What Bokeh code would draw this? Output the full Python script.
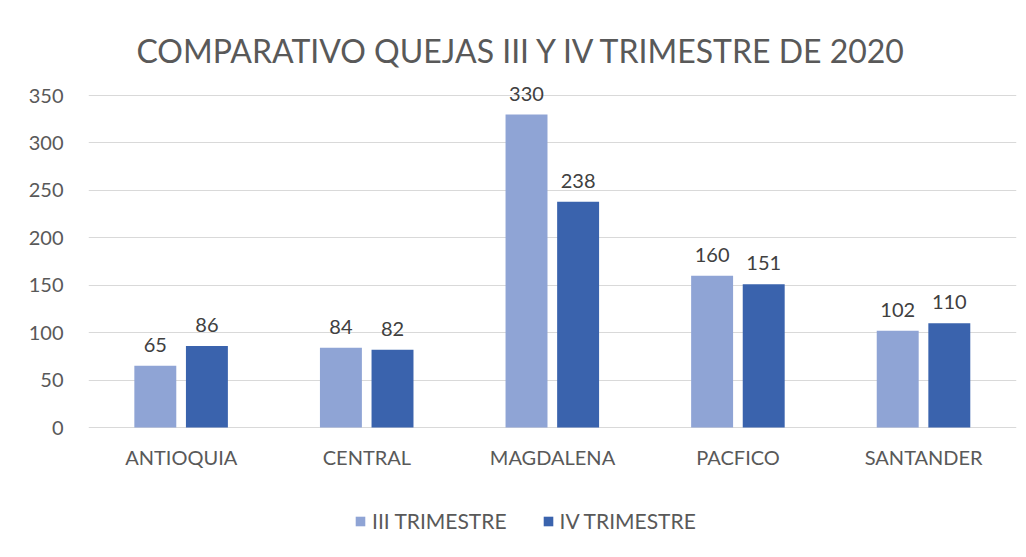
from bokeh.plotting import figure
from bokeh.models import (ColumnDataSource, FactorRange, Range1d, FixedTicker,
                          LabelSet, Label, Legend, LegendItem)
from bokeh.core.properties import value
from bokeh.transform import dodge
from bokeh.embed import file_html
from bokeh.resources import INLINE

categories = ["ANTIOQUIA", "CENTRAL", "MAGDALENA", "PACFICO", "SANTANDER"]
iii_trimestre = [65, 84, 330, 160, 102]
iv_trimestre = [86, 82, 238, 151, 110]
y_ticks = [0, 50, 100, 150, 200, 250, 300, 350]
series_names = ["III TRIMESTRE", "IV TRIMESTRE"]
title_text = "COMPARATIVO QUEJAS III Y IV TRIMESTRE DE 2020"

FONT = "Lato"
C_LIGHT = "#8FA4D5"
C_DARK = "#3A63AD"
TXT = "#595959"

src = ColumnDataSource(dict(
    cat=categories,
    zero=[0] * len(categories),
    iii=iii_trimestre,
    iv=iv_trimestre,
    iii_txt=[str(v) for v in iii_trimestre],
    iv_txt=[str(v) for v in iv_trimestre],
))

W, H = 1018, 549
p = figure(width=W, height=H, x_range=FactorRange(factors=categories, range_padding=0),
           y_range=Range1d(-128.6, 450.2), output_backend="svg", toolbar_location=None,
           min_border_left=88, min_border_right=2, min_border_top=0, min_border_bottom=0)
p.outline_line_color = None
p.background_fill_color = "white"
p.border_fill_color = "white"
p.xaxis.visible = False

r1 = p.vbar(x=dodge("cat", -0.14, range=p.x_range), top="iii", width=0.226, source=src,
            fill_color=C_LIGHT, line_color=None)
r2 = p.vbar(x=dodge("cat", 0.138, range=p.x_range), top="iv", width=0.226, source=src,
            fill_color=C_DARK, line_color=None)

for col, ycol, off in (("iii_txt", "iii", -0.14), ("iv_txt", "iv", 0.138)):
    p.add_layout(LabelSet(x=dodge("cat", off, range=p.x_range), y=ycol, text=col, source=src,
                          text_align="center", text_baseline="alphabetic", y_offset=14,
                          text_font=value(FONT), text_font_size="20px", text_color="#404040"))

# category labels
p.add_layout(LabelSet(x="cat", y="zero", text="cat", source=src,
                      text_align="center", text_baseline="alphabetic", y_offset=-37,
                      text_font=value(FONT), text_font_size="20px", text_color=TXT))

# title
p.add_layout(Label(x=434, y=H - 50, x_units="screen", y_units="screen", text=title_text,
                   text_align="center", text_baseline="alphabetic",
                   text_font=FONT, text_font_size="32px", text_color=TXT))

p.yaxis.ticker = FixedTicker(ticks=y_ticks)
p.ygrid.ticker = FixedTicker(ticks=y_ticks)
p.ygrid.grid_line_color = "#D9D9D9"
p.ygrid.grid_line_width = 1
p.xgrid.grid_line_color = None

ax = p.yaxis[0]
ax.axis_line_color = None
ax.major_tick_line_color = None
ax.minor_tick_line_color = None
ax.major_tick_out = 0
ax.major_tick_in = 0
ax.major_label_text_font = FONT
ax.major_label_text_font_size = "20px"
ax.major_label_text_color = TXT
ax.major_label_standoff = 25

legend = Legend(items=[LegendItem(label=series_names[0], renderers=[r1]),
                       LegendItem(label=series_names[1], renderers=[r2])],
                orientation="horizontal", location=(266, 16),
                label_text_font=FONT, label_text_font_size="21px", label_text_color=TXT,
                glyph_width=12, glyph_height=12, label_standoff=6, spacing=35,
                padding=0, margin=0, border_line_color=None, background_fill_alpha=0)
p.add_layout(legend, "center")

open("out.html", "w").write(file_html(p, INLINE))
